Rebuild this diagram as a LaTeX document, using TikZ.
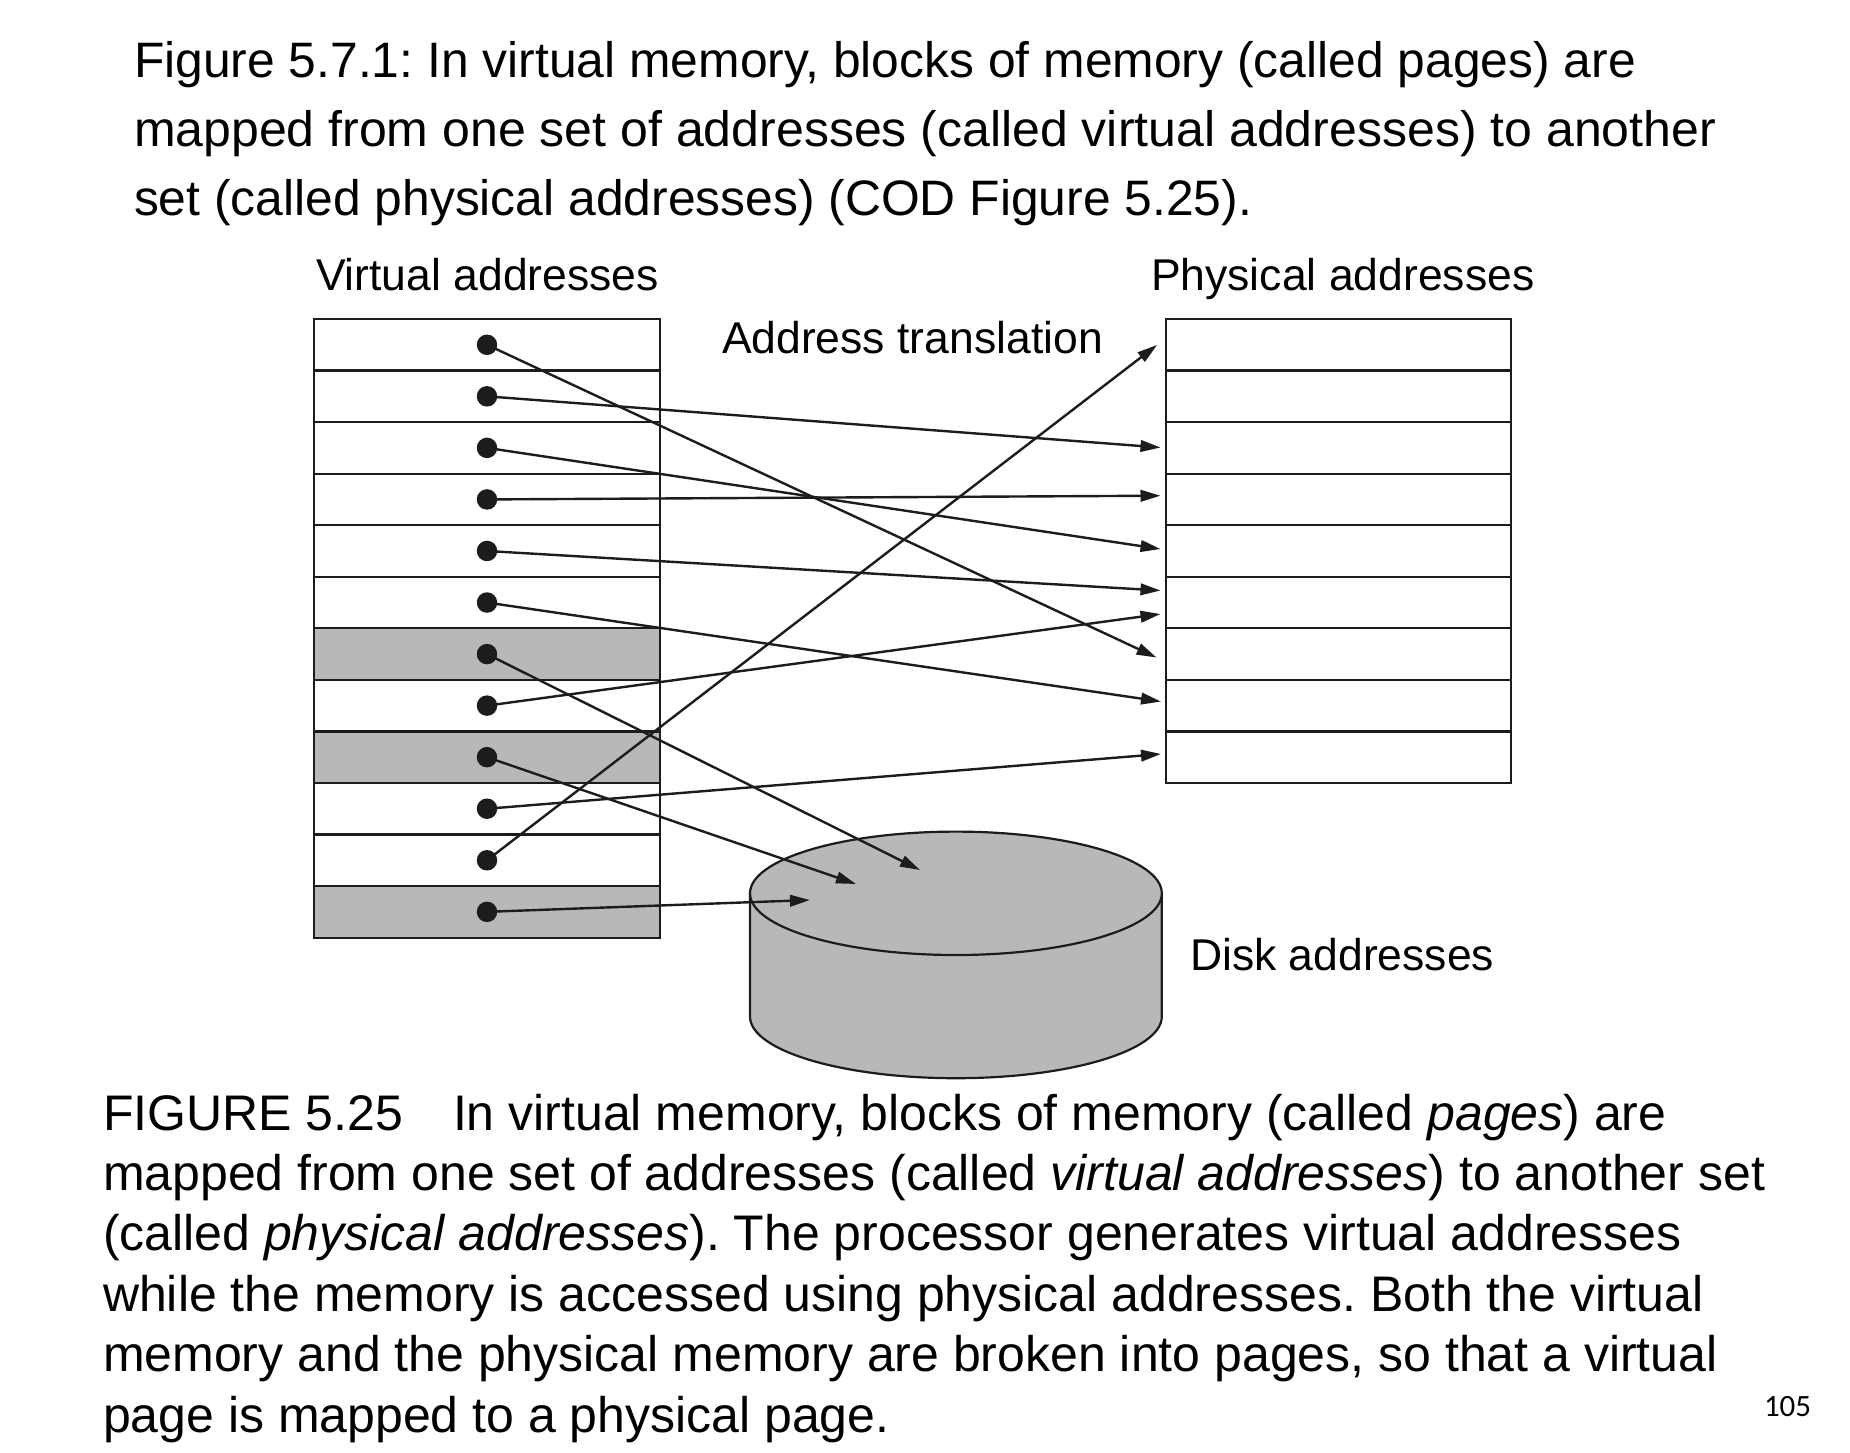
\documentclass[tikz,border=0pt]{standalone}
\usepackage{fontspec}
\setmainfont{Liberation Sans}
\newfontfamily\pagefont{Carlito}
\usetikzlibrary{arrows.meta}
\definecolor{linec}{HTML}{1C1C1C}
\definecolor{diskgray}{HTML}{B8B8B8}
\frenchspacing
\begin{document}
\begin{tikzpicture}[x=1pt,y=-1pt,
  vpage/.style={draw=linec, line width=2.2pt, minimum width=346pt, minimum height=51.55pt, inner sep=0pt, outer sep=0pt},
  shadedpage/.style={vpage, fill=diskgray},
  dot/.style={circle, fill=linec, inner sep=0pt, minimum size=20.5pt},
  arr/.style={draw=linec, line width=2.4pt, -{Triangle[length=20pt,width=11.5pt]}},
  txt/.style={anchor=base west, inner sep=0pt, outer sep=0pt, text=black},
  titletxt/.style={txt, font=\fontsize{49.8}{69}\selectfont},
  labeltxt/.style={txt, font=\fontsize{44.5}{52}\selectfont},
  captxt/.style={txt, font=\fontsize{50}{60}\selectfont},
]
\useasboundingbox[fill=white] (0,0) rectangle (1850,1452);

% title
\node[titletxt] (ti1) at (134,77) {Figure 5.7.1: In virtual memory, blocks of memory (called pages) are};
\node[titletxt] (ti2) at (134,146) {\resizebox{1582pt}{\height}{mapped from one set of addresses (called virtual addresses) to another}};
\node[titletxt] (ti3) at (134,215) {set (called physical addresses) (COD Figure 5.25).};

% labels
\node[labeltxt] (lv) at (316,290) {Virtual addresses};
\node[labeltxt] (lp) at (1151,290) {Physical addresses};
\node[labeltxt] (la) at (722,353) {Address translation};
\node[labeltxt] (ld) at (1190,970) {Disk addresses};

% virtual pages
\foreach \i in {1,...,12} {
  \pgfmathsetmacro{\yc}{319+51.55*(\i-0.5)}
  \ifnum\i=7 \node[shadedpage] (v\i) at (487,\yc) {};
  \else\ifnum\i=9 \node[shadedpage] (v\i) at (487,\yc) {};
  \else\ifnum\i=12 \node[shadedpage] (v\i) at (487,\yc) {};
  \else \node[vpage] (v\i) at (487,\yc) {};
  \fi\fi\fi
}

% physical pages
\foreach \j in {1,...,9} {
  \pgfmathsetmacro{\yc}{319+51.55*(\j-0.5)}
  \node[vpage, minimum width=345pt] (p\j) at (1338.5,\yc) {};
}

% disk
\fill[diskgray] (750,893) -- (750,1016.5) arc[start angle=180, end angle=360, x radius=205.9pt, y radius=61.7pt] -- (1161.8,893) -- cycle;
\draw[linec, line width=2.2pt] (750,893) -- (750,1016.5) arc[start angle=180, end angle=360, x radius=205.9pt, y radius=61.7pt] -- (1161.8,893);
\draw[linec, line width=2.2pt, fill=diskgray] (955.9,893.3) ellipse[x radius=205.9pt, y radius=61.7pt];
\coordinate (disk) at (955.9,893.3);

% arrow targets
\coordinate (t1) at (1156.5,657.5);
\coordinate (t2) at (1160.5,447.5);
\coordinate (t3) at (1160.5,549);
\coordinate (t4) at (1160.5,495.7);
\coordinate (t5) at (1160.5,590.5);
\coordinate (t6) at (1161,701.5);
\coordinate (t7) at (920,870);
\coordinate (t8) at (1160.5,614);
\coordinate (t9) at (856,884);
\coordinate (t10) at (1161,754);
\coordinate (t11) at (1157,345);
\coordinate (t12) at (810,900);

% connectors from each virtual page to its target
\foreach \i in {1,...,12} {
  \draw[arr] (v\i.center) -- (t\i);
}
\foreach \i in {1,...,12} {
  \node[dot] (d\i) at (v\i.center) {};
}

% caption
\node[captxt] (c1) at (103,1130) {FIGURE 5.25\hspace*{50pt}In virtual memory, blocks of memory (called \textit{pages}) are};
\node[captxt] (c2) at (103,1190.4) {mapped from one set of addresses (called \textit{virtual addresses}) to another set};
\node[captxt] (c3) at (103,1250.8) {(called \textit{physical addresses}). The processor generates virtual addresses};
\node[captxt] (c4) at (103,1311.2) {while the memory is accessed using physical addresses. Both the virtual};
\node[captxt] (c5) at (103,1371.6) {memory and the physical memory are broken into pages, so that a virtual};
\node[captxt] (c6) at (103,1432) {page is mapped to a physical page.};

% page number
\node[txt, font=\pagefont\fontsize{31}{36}\selectfont] (pg) at (1764,1416) {105};
\end{tikzpicture}
\end{document}
